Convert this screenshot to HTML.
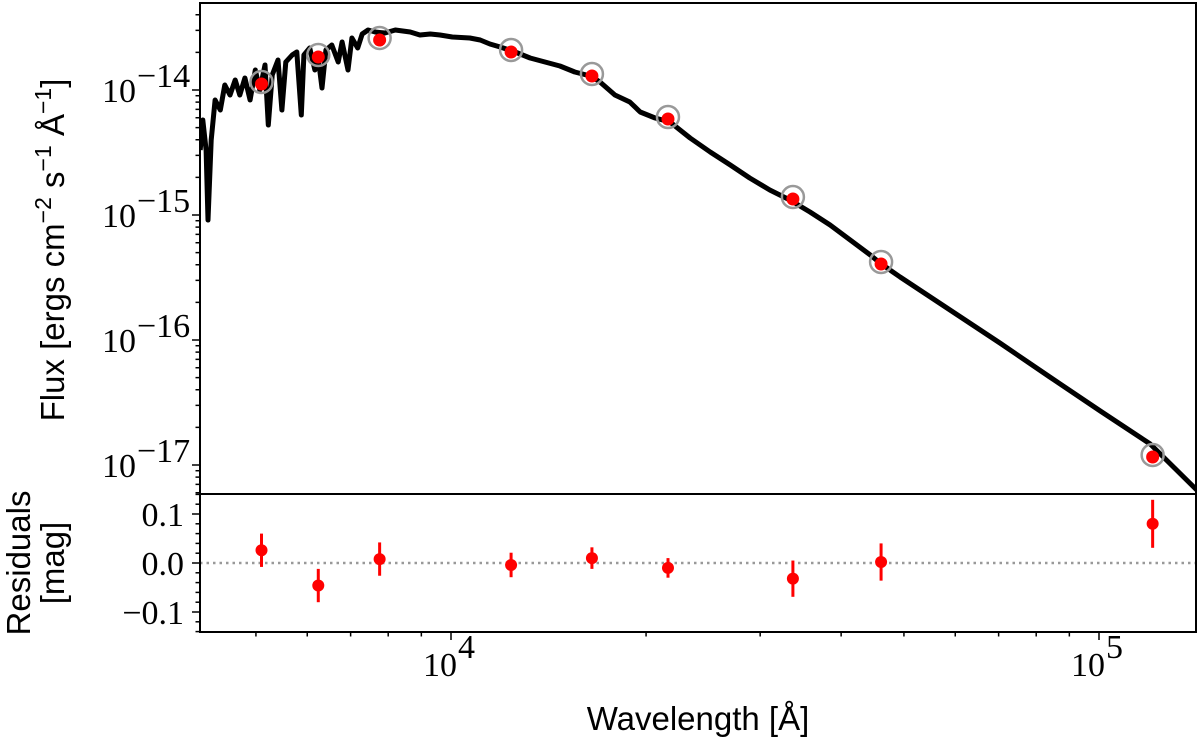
<!DOCTYPE html>
<html><head><meta charset="utf-8"><style>
html,body{margin:0;padding:0;background:#fff;}
svg{display:block;}
.tick{font-family:"Liberation Serif",serif;font-size:34px;fill:#000;}
.lab{font-family:"Liberation Sans",sans-serif;font-size:33px;fill:#000;}
</style></head><body>
<svg id="chart" width="1200" height="752" viewBox="0 0 1200 752" xmlns="http://www.w3.org/2000/svg">
<g id="spec"></g>
<g id="phot"></g>
<g id="resid"></g>
<g id="axes"></g>
<text class="lab" transform="translate(64,250) rotate(-90)" text-anchor="middle">Flux [ergs cm<tspan dy="-13" font-size="23">−2</tspan><tspan dy="13"> s</tspan><tspan dy="-13" font-size="23">−1</tspan><tspan dy="13"> Å</tspan><tspan dy="-13" font-size="23">−1</tspan><tspan dy="13">]</tspan></text>
<text class="lab" transform="translate(30,563) rotate(-90)" text-anchor="middle">Residuals</text>
<text class="lab" transform="translate(64,563) rotate(-90)" text-anchor="middle">[mag]</text>
<text class="lab" x="698" y="730" text-anchor="middle">Wavelength [Å]</text>
</svg>
<script>
const specLogLam=[3.613,3.617,3.622,3.625,3.630,3.636,3.644,3.651,3.659,3.667,3.674,3.682,3.690,3.698,3.705,3.713,3.718,3.724,3.733,3.739,3.745,3.755,3.762,3.769,3.773,3.782,3.790,3.795,3.801,3.807,3.816,3.826,3.832,3.841,3.847,3.856,3.863,3.872,3.883,3.898,3.914,3.937,3.952,3.968,3.983,4.002,4.029,4.045,4.060,4.076,4.099,4.122,4.145,4.168,4.191,4.215,4.230,4.253,4.276,4.292,4.315,4.338,4.369,4.400,4.431,4.461,4.492,4.523,4.554,4.585,4.616,4.647,4.662,4.693,4.770,4.847,4.924,5.002,5.079,5.151];
const specLogFlux=[-14.48,-14.24,-14.48,-15.04,-14.40,-14.08,-14.16,-13.96,-14.04,-13.92,-14.04,-13.904,-14.08,-13.84,-14.00,-13.80,-14.28,-13.88,-13.76,-14.16,-13.776,-13.72,-13.696,-14.20,-13.72,-13.664,-13.84,-13.744,-13.984,-13.68,-13.64,-13.776,-13.616,-13.84,-13.584,-13.664,-13.552,-13.52,-13.536,-13.544,-13.52,-13.536,-13.56,-13.552,-13.56,-13.576,-13.584,-13.60,-13.632,-13.656,-13.696,-13.744,-13.776,-13.808,-13.856,-13.888,-13.936,-14.04,-14.096,-14.176,-14.224,-14.256,-14.384,-14.496,-14.60,-14.704,-14.80,-14.88,-14.976,-15.08,-15.20,-15.32,-15.384,-15.496,-15.76,-16.024,-16.296,-16.568,-16.832,-17.20];
const photLam=[5100,6240,7760,12380,16500,21620,33700,46100,121000];
const photLogFlux=[-13.952,-13.736,-13.6,-13.696,-13.888,-14.232,-14.872,-15.392,-16.936];
const residVal=[0.026,-0.046,0.008,-0.004,0.01,-0.01,-0.032,0.002,0.08];
const residErr=[0.034,0.034,0.034,0.025,0.022,0.02,0.037,0.038,0.049];
const fluxTicks=[-14,-15,-16,-17];
const residTicks=[0.1,0.0,-0.1];
const residTickLabels=["0.1","0.0","−0.1"];

const NS="http://www.w3.org/2000/svg";
const L=200,R=1196,T=3,MID=494,B=632;
const xs=lg=>451+(lg-4)*648;
const xl=l=>xs(Math.log10(l));
const yf=lf=>90+(-14-lf)*125;
const yr=v=>563-v*490;
function mk(p,tag,attrs){const e=document.createElementNS(NS,tag);for(const k in attrs)e.setAttribute(k,attrs[k]);p.appendChild(e);return e;}

const spec=document.getElementById('spec');
let d=specLogLam.map((lg,i)=>(i?'L':'M')+xs(lg).toFixed(1)+' '+yf(specLogFlux[i]).toFixed(1)).join(' ');
const cp=mk(document.getElementById('chart'),'clipPath',{id:'clipTop'});
mk(cp,'rect',{x:L,y:T,width:R-L,height:MID-T});
const sp=mk(spec,'path',{d:d,fill:'none',stroke:'#000','stroke-width':5,'stroke-linejoin':'round','clip-path':'url(#clipTop)'});



const phot=document.getElementById('phot');
photLam.forEach((l,i)=>{
  const c=mk(phot,'circle',{cx:xl(l),cy:yf(photLogFlux[i])-2,r:11,fill:'none',stroke:'#999','stroke-width':2.5});
  
  
  const p=mk(phot,'circle',{cx:xl(l),cy:yf(photLogFlux[i]),r:6.5,fill:'#f00'});
  
  
});

const res=document.getElementById('resid');
const zl=mk(res,'line',{x1:L,x2:R,y1:yr(0),y2:yr(0),stroke:'#999','stroke-width':2.5,'stroke-dasharray':'2.5 4'});


photLam.forEach((l,i)=>{
  const e=mk(res,'line',{x1:xl(l),x2:xl(l),y1:yr(residVal[i]+residErr[i]),y2:yr(residVal[i]-residErr[i]),stroke:'#f00','stroke-width':3});
  
  
  const p=mk(res,'circle',{cx:xl(l),cy:yr(residVal[i]),r:6,fill:'#f00'});
  
  
});

const ax=document.getElementById('axes');
const f1=mk(ax,'rect',{x:L,y:T,width:R-L,height:MID-T,fill:'none',stroke:'#000','stroke-width':2});


const f2=mk(ax,'rect',{x:L,y:MID,width:R-L,height:B-MID,fill:'none',stroke:'#000','stroke-width':2});


for(let dec=-13;dec>=-18;dec--){
  for(let m=1;m<10;m++){
    const y=yf(dec+Math.log10(m));
    if(y<T||y>MID)continue;
    mk(ax,'line',{x1:L,x2:L-(m==1?8:4.5),y1:y,y2:y,stroke:'#000','stroke-width':1.5});
  }
}
fluxTicks.forEach(t=>{
  const tx=mk(ax,'text',{class:'tick',x:136,y:yf(t)+12,'text-anchor':'end'});
  tx.textContent='10';
  
  
  const s=mk(ax,'text',{class:'tick',x:137,y:yf(t)-3,'font-size':23});
  s.textContent='−'+(-t);
});
for(let v=-0.14;v<=0.141;v+=0.02){
  const major=Math.abs(Math.round(v*100)%10)===0;
  mk(ax,'line',{x1:L,x2:L-(major?8:4.5),y1:yr(v),y2:yr(v),stroke:'#000','stroke-width':1.5});
}
residTicks.forEach((t,i)=>{
  const tx=mk(ax,'text',{class:'tick',x:184,y:yr(t)+12,'text-anchor':'end'});
  tx.textContent=residTickLabels[i];
  
  
});
for(let dec=3;dec<=5;dec++){
  for(let m=1;m<10;m++){
    const x=xl(m*Math.pow(10,dec));
    if(x<L||x>R)continue;
    mk(ax,'line',{x1:x,x2:x,y1:B,y2:B+(m==1?8:4.5),stroke:'#000','stroke-width':1.5});
  }
}
[4,5].forEach(e=>{
  const x=xl(Math.pow(10,e));
  const tx=mk(ax,'text',{class:'tick',x:x+6,y:B+44,'text-anchor':'end'});
  tx.textContent='10';
  
  
  const s=mk(ax,'text',{class:'tick',x:x+7,y:B+26,'font-size':23});
  s.textContent=String(e);
});
</script>
</body></html>
